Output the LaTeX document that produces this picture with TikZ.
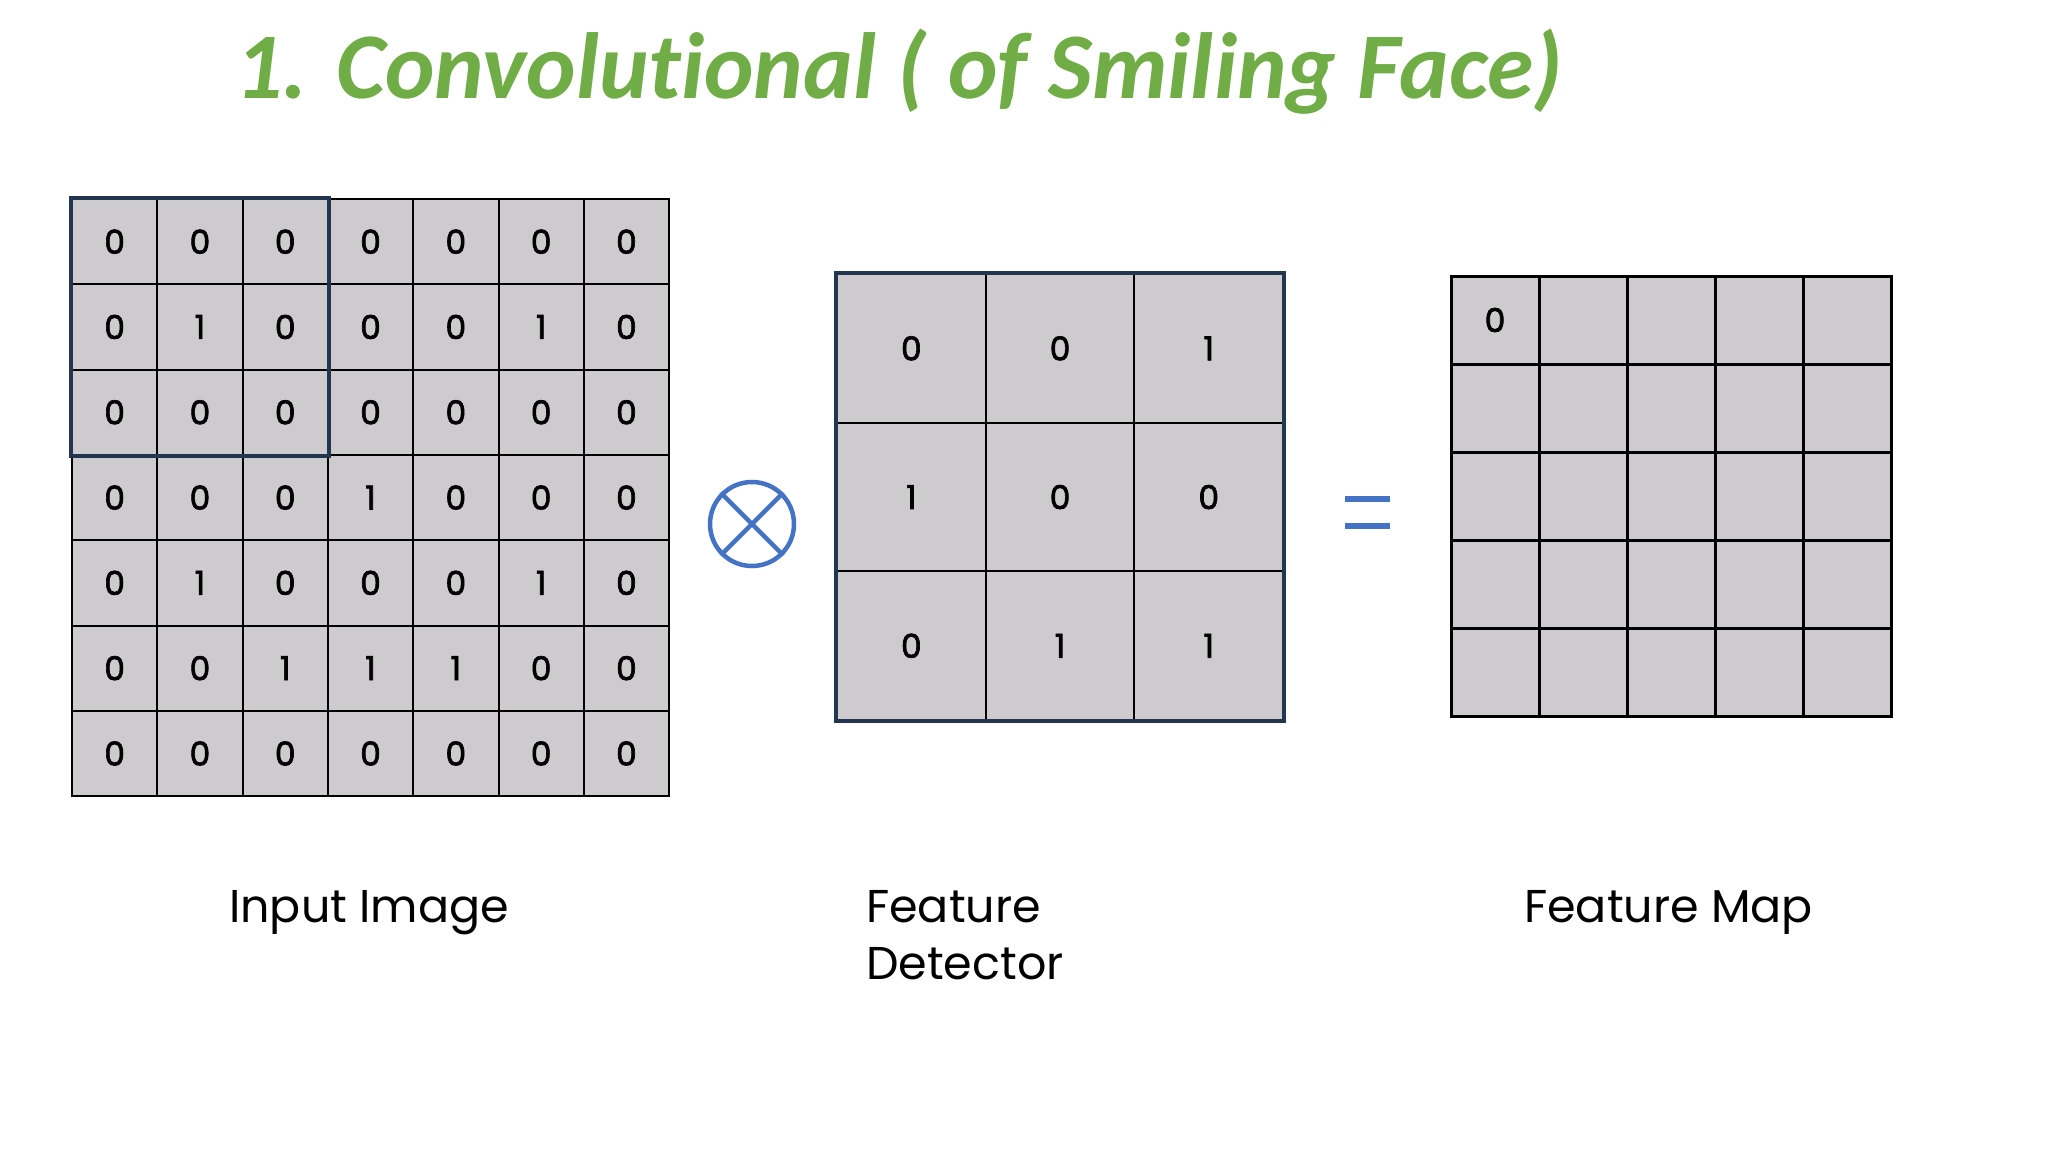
\documentclass[tikz,border=0pt]{standalone}
\usepackage{fontspec}
\setmainfont{Carlito}
\newfontfamily\titlefont[Ligatures=NoCommon]{Carlito}
\newfontfamily\labfont{Poppins}
\newfontfamily\digfont[FakeBold=2]{Poppins}
\definecolor{titlegreen}{HTML}{70AD47}
\definecolor{cellgray}{HTML}{CDCBCD}
\definecolor{symblue}{HTML}{4472C4}
\definecolor{navyline}{HTML}{22364F}
\begin{document}
\begin{tikzpicture}[x=1pt,y=-1pt,
  digitfont/.style={font=\digfont\fontsize{33}{33}\selectfont},
  incell/.style={draw=black, line width=2pt, fill=cellgray, minimum size=85.3pt, inner sep=0pt, digitfont},
  detcell/.style={draw=black, line width=2pt, fill=cellgray, minimum size=148.7pt, inner sep=0pt, digitfont},
  mapcell/.style={draw=black, line width=3pt, fill=cellgray, minimum size=88pt, inner sep=0pt, digitfont},
  caption/.style={font=\labfont\fontsize{46}{46}\selectfont, anchor=base west, inner sep=0pt},
  symline/.style={draw=symblue, line width=4.5pt}
]
\useasboundingbox[fill=white] (0,0) rectangle (2048,1152);
% title
\node[anchor=base west, inner sep=0pt, text=titlegreen, font=\titlefont\fontsize{94}{94}\selectfont\bfseries\itshape] (title) at (235,98) {1. Convolutional ( of Smiling Face)};
% input image
\foreach \row [count=\r] in {{0,0,0,0,0,0,0},{0,1,0,0,0,1,0},{0,0,0,0,0,0,0},{0,0,0,1,0,0,0},{0,1,0,0,0,1,0},{0,0,1,1,1,0,0},{0,0,0,0,0,0,0}}{
  \foreach \v [count=\c] in \row {
    \node[incell] (in-\r-\c) at ({72+85.3*(\c-0.5)},{199+85.3*(\r-0.5)}) {\v};
  }
}
\draw[navyline, line width=4pt] (in-1-1.north west) rectangle (in-3-3.south east);
% operator
\node[circle, draw=symblue, line width=4.5pt, minimum size=84pt, inner sep=0pt] (otimes) at (752,524) {};
\draw[symline] (otimes.north west) -- (otimes.south east);
\draw[symline] (otimes.north east) -- (otimes.south west);
% feature detector
\foreach \row [count=\r] in {{0,0,1},{1,0,0},{0,1,1}}{
  \foreach \v [count=\c] in \row {
    \node[detcell] (det-\r-\c) at ({837+148.7*(\c-0.5)},{274+148.7*(\r-0.5)}) {\v};
  }
}
\draw[navyline, line width=4.5pt] (det-1-1.north west) rectangle (det-3-3.south east);
% equals
\draw[symblue, line width=6pt] (1345,499) -- (1390,499);
\draw[symblue, line width=6pt] (1345,526) -- (1390,526);
% feature map
\foreach \r in {1,...,5}{
  \foreach \c in {1,...,5}{
    \node[mapcell] (map-\r-\c) at ({1451+88*(\c-0.5)},{276+88*(\r-0.5)}) {};
  }
}
\node[digitfont] (map-val) at (map-1-1.center) {0};
% captions
\node[caption] (cap-in) at (229,922) {Input Image};
\node[caption] (cap-det) at (866,922) {Feature};
\node[caption] (cap-det2) at (866,979) {Detector};
\node[caption] (cap-map) at (1524,922) {Feature Map};
\end{tikzpicture}
\end{document}
